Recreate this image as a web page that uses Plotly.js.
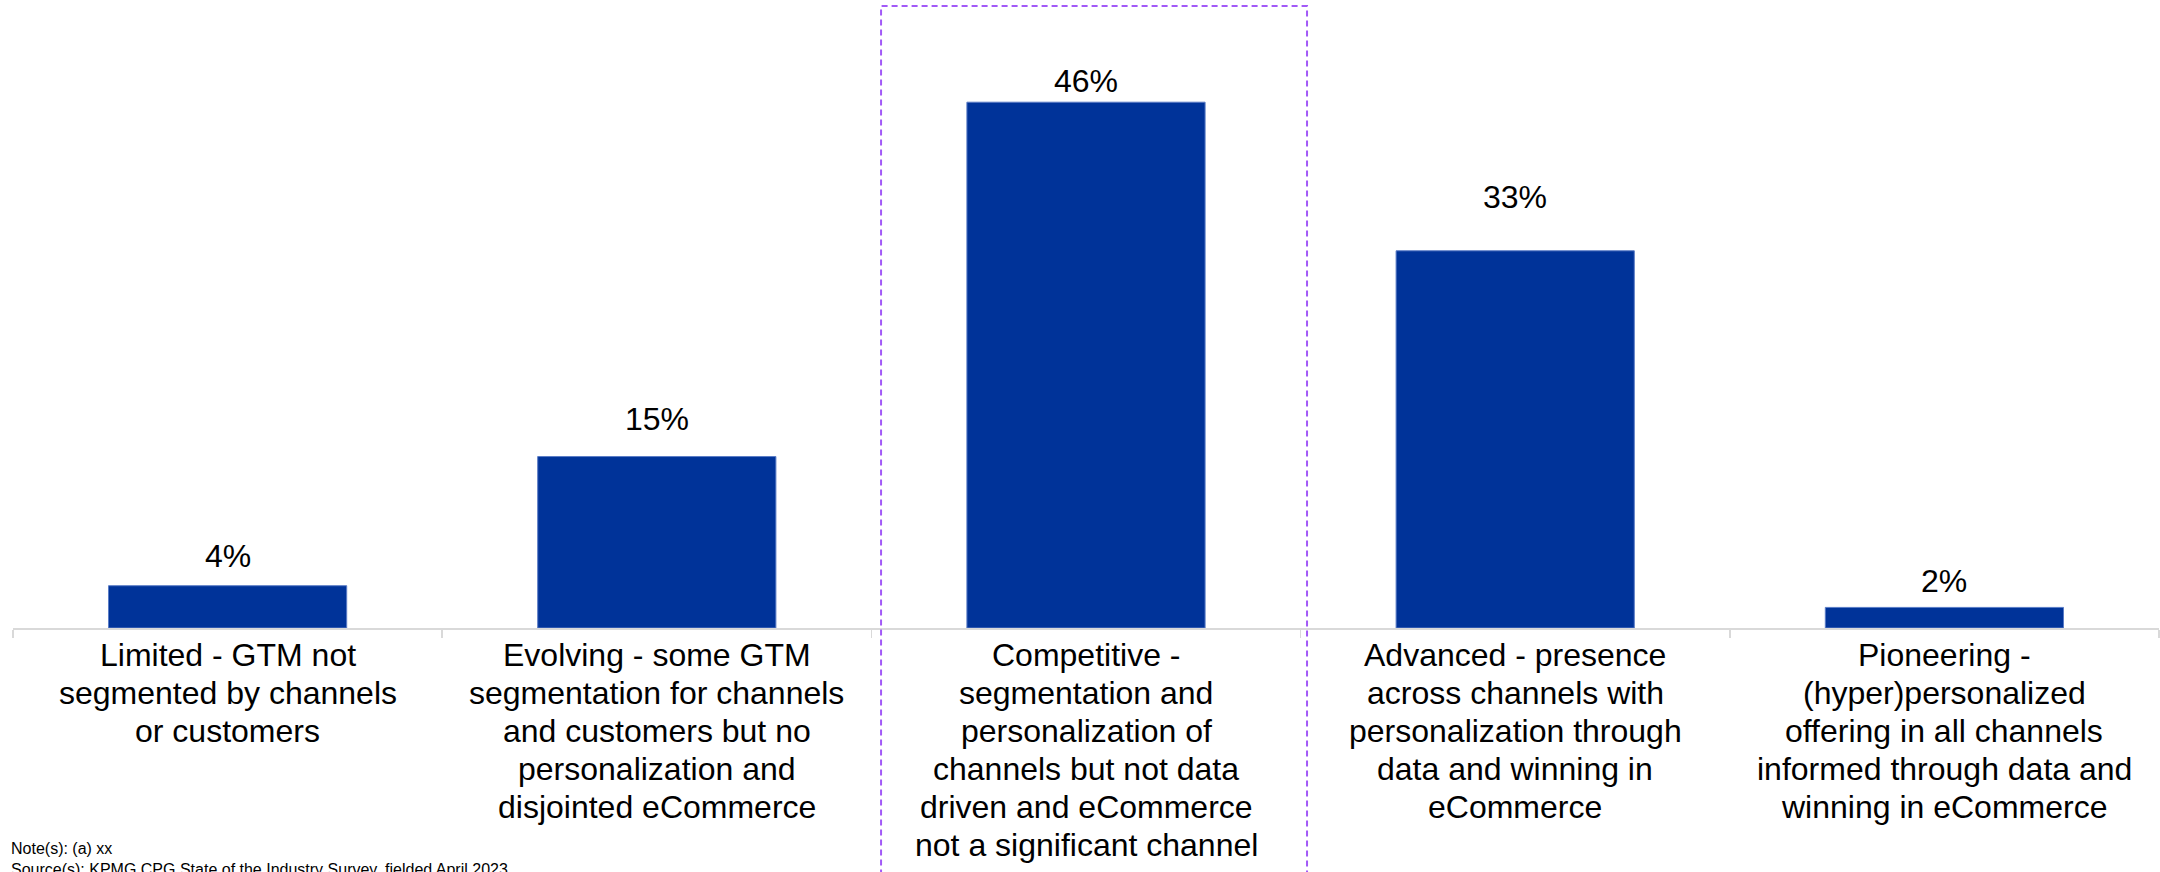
<!DOCTYPE html>
<html>
<head>
<meta charset="utf-8">
<script src="https://cdn.plot.ly/plotly-3.0.1.min.js"></script>
<style>html,body{margin:0;padding:0;background:#fff;}#chart{width:2160px;height:872px;}</style>
</head>
<body>
<div id="chart"></div>
<script>
const categories = [
  "Limited - GTM not<br>segmented by channels<br>or customers",
  "Evolving - some GTM<br>segmentation for channels<br>and customers but no<br>personalization and<br>disjointed eCommerce",
  "Competitive -<br>segmentation and<br>personalization of<br>channels but not data<br>driven and eCommerce<br>not a significant channel",
  "Advanced - presence<br>across channels with<br>personalization through<br>data and winning in<br>eCommerce",
  "Pioneering -<br>(hyper)personalized<br>offering in all channels<br>informed through data and<br>winning in eCommerce"
];
const values = [3.7, 15, 46, 33, 1.8];
const valueLabels = ["4%", "15%", "46%", "33%", "2%"];
const noteText = "Note(s): (a) xx<br>Source(s): KPMG CPG State of the Industry Survey, fielded April 2023";

// styling / placement (not data)
const FONT = "Liberation Sans, Arial, sans-serif";
const BAR = "#003399";
const labelShift = [10, 18, 1, 34, 6];   // extra gap above each bar's value label, px
const CAT_LINE = 38;                       // line pitch of category labels, px
const CAT_TOP = -7;                        // shift of first category line below the axis, px

const trace = {
  type: "bar",
  x: categories,
  y: values,
  marker: {color: BAR, line: {color: "#5a7cc6", width: 1}},
  hoverinfo: "skip"
};

const annotations = categories.map((c, i) => ({
  x: c, y: values[i], xref: "x", yref: "y",
  text: valueLabels[i], showarrow: false,
  yanchor: "bottom", yshift: labelShift[i],
  font: {family: FONT, size: 32, color: "#000"}
}));

categories.forEach((c, i) => {
  c.split("<br>").forEach((line, j) => {
    annotations.push({
      x: c, y: 0, xref: "x", yref: "paper",
      text: line, showarrow: false,
      xanchor: "center", yanchor: "top",
      yshift: CAT_TOP - j * CAT_LINE,
      font: {family: FONT, size: 32, color: "#000"}
    });
  });
});

annotations.push({
  xref: "paper", yref: "paper", x: 0, y: -0.335, xshift: -4,
  xanchor: "left", yanchor: "top", align: "left",
  text: noteText, showarrow: false,
  font: {family: "Liberation Sans Narrow, Arial Narrow, Liberation Sans, Arial, sans-serif", size: 16, color: "#000"}
});

const layout = {
  width: 2160, height: 872,
  margin: {l: 13, r: 1, t: 0, b: 244},
  paper_bgcolor: "#fff", plot_bgcolor: "#fff",
  showlegend: false,
  bargap: 0.445,
  xaxis: {
    type: "category",
    showline: true, linecolor: "#d9d9d9", linewidth: 1.5,
    ticks: "outside", tickson: "boundaries", ticklen: 8, tickcolor: "#d9d9d9", tickwidth: 1.5,
    showticklabels: false,
    showgrid: false, zeroline: false, fixedrange: true
  },
  yaxis: {
    range: [0, 54.94], visible: false, showgrid: false, zeroline: false, fixedrange: true
  },
  annotations: annotations,
  shapes: [{
    type: "rect", xref: "paper", yref: "paper",
    x0: 0.4045, x1: 0.603, y0: -0.45, y1: 0.9904,
    line: {color: "#a259f7", width: 2, dash: "6px,4px"},
    fillcolor: "rgba(0,0,0,0)", layer: "above"
  }]
};

Plotly.newPlot("chart", [trace], layout, {displayModeBar: false, staticPlot: true});
</script>
</body>
</html>
